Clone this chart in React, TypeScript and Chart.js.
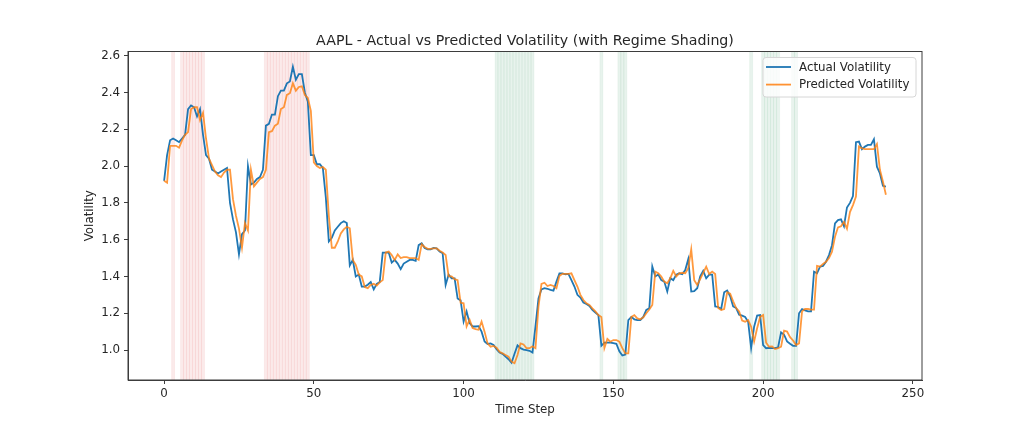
import { useRef, useEffect } from 'react';
import Chart from 'chart.js/auto';

// actual vs predicted volatility, one value per time step (0..241)
const actualVolatility = [
  1.92, 2.06, 2.14, 2.15, 2.14, 2.13, 2.15, 2.17, 2.31, 2.33,
  2.32, 2.27, 2.31, 2.17, 2.06, 2.04, 1.98, 1.97, 1.96, 1.97,
  1.98, 1.99, 1.80, 1.71, 1.64, 1.52, 1.63, 1.65, 2.00, 1.90,
  1.91, 1.93, 1.94, 1.98, 2.22, 2.23, 2.28, 2.28, 2.38, 2.41,
  2.41, 2.45, 2.46, 2.54, 2.47, 2.50, 2.50, 2.40, 2.35, 2.06,
  2.06, 2.01, 2.01, 1.99, 1.83, 1.59, 1.61, 1.65, 1.67, 1.69,
  1.70, 1.69, 1.46, 1.49, 1.40, 1.41, 1.345, 1.345, 1.355, 1.37,
  1.33, 1.36, 1.37, 1.53, 1.53, 1.53, 1.475, 1.49, 1.47, 1.44,
  1.47, 1.48, 1.49, 1.49, 1.485, 1.57, 1.58, 1.555, 1.547, 1.547,
  1.555, 1.553, 1.535, 1.526, 1.354, 1.41, 1.39, 1.39, 1.28, 1.27,
  1.155, 1.21, 1.146, 1.128, 1.128, 1.13, 1.10, 1.046, 1.033, 1.036,
  1.027, 1.004, 0.986, 0.979, 0.964, 0.95, 0.931, 0.98, 1.025, 1.01,
  1.002, 1.0, 0.996, 0.986, 1.13, 1.28, 1.33, 1.336, 1.333, 1.327,
  1.323, 1.372, 1.417, 1.417, 1.412, 1.414, 1.38, 1.345, 1.30, 1.285,
  1.258, 1.25, 1.24, 1.218, 1.204, 1.19, 1.023, 1.04, 1.04, 1.04,
  1.038, 1.034, 0.993, 0.97, 0.975, 1.163, 1.18, 1.167, 1.163, 1.163,
  1.18, 1.218, 1.227, 1.454, 1.40, 1.41, 1.38, 1.372, 1.318, 1.39,
  1.38, 1.41, 1.417, 1.412, 1.435, 1.494, 1.318, 1.32, 1.336, 1.40,
  1.43, 1.39, 1.41, 1.41, 1.237, 1.234, 1.223, 1.314, 1.324, 1.292,
  1.237, 1.228, 1.192, 1.187, 1.18, 1.154, 1.01, 1.127, 1.187, 1.19,
  1.027, 1.01, 1.012, 1.01, 1.01, 1.015, 1.096, 1.083, 1.047, 1.034,
  1.023, 1.023, 1.20, 1.223, 1.216, 1.21, 1.21, 1.426, 1.417, 1.453,
  1.457, 1.48, 1.516, 1.57, 1.688, 1.706, 1.71, 1.673, 1.775, 1.80,
  1.837, 2.13, 2.133, 2.092, 2.106, 2.115, 2.115, 2.146, 1.997, 1.96,
  1.893, 1.889,
];

const predictedVolatility = [
  1.92, 1.91, 2.11, 2.11, 2.11, 2.10, 2.14, 2.17, 2.185, 2.31,
  2.32, 2.32, 2.25, 2.29, 2.15, 2.04, 2.005, 1.97, 1.95, 1.94,
  1.965, 1.98, 1.98, 1.82, 1.73, 1.66, 1.556, 1.69, 1.65, 1.98,
  1.89, 1.91, 1.93, 1.94, 1.98, 2.185, 2.19, 2.22, 2.23, 2.31,
  2.32, 2.387, 2.396, 2.45, 2.41, 2.43, 2.434, 2.387, 2.37, 2.30,
  2.02, 2.00, 1.99, 1.995, 1.98, 1.73, 1.556, 1.556, 1.59, 1.634,
  1.656, 1.67, 1.662, 1.49, 1.463, 1.41, 1.40, 1.342, 1.336, 1.354,
  1.36, 1.35, 1.368, 1.38, 1.53, 1.535, 1.517, 1.49, 1.52, 1.50,
  1.505, 1.505, 1.50, 1.50, 1.50, 1.49, 1.575, 1.56, 1.55, 1.55,
  1.553, 1.553, 1.54, 1.53, 1.517, 1.40, 1.40, 1.385, 1.38, 1.257,
  1.254, 1.128, 1.165, 1.12, 1.114, 1.11, 1.155, 1.10, 1.036, 1.018,
  1.022, 1.013, 0.99, 0.982, 0.973, 0.964, 0.937, 0.928, 0.973, 1.036,
  1.03, 1.01, 1.01, 1.02, 1.01, 1.236, 1.36, 1.366, 1.348, 1.354,
  1.348, 1.336, 1.403, 1.414, 1.414, 1.414, 1.417, 1.38, 1.345, 1.30,
  1.272, 1.254, 1.245, 1.227, 1.21, 1.19, 1.18, 1.01, 1.06, 1.045,
  1.054, 1.054, 1.045, 1.01, 0.982, 0.982, 1.18, 1.19, 1.172, 1.167,
  1.178, 1.20, 1.22, 1.245, 1.426, 1.417, 1.40, 1.372, 1.363, 1.39,
  1.43, 1.40, 1.417, 1.42, 1.417, 1.445, 1.547, 1.38, 1.354, 1.385,
  1.42, 1.453, 1.413, 1.426, 1.413, 1.228, 1.218, 1.223, 1.314, 1.306,
  1.265, 1.228, 1.21, 1.16, 1.154, 1.163, 1.127, 1.047, 1.118, 1.18,
  1.19, 1.04, 1.018, 1.02, 1.005, 1.01, 1.018, 1.105, 1.10, 1.07,
  1.052, 1.027, 1.036, 1.21, 1.223, 1.223, 1.22, 1.22, 1.457, 1.453,
  1.468, 1.48, 1.50, 1.534, 1.616, 1.667, 1.673, 1.697, 1.66, 1.75,
  1.788, 1.834, 2.106, 2.097, 2.092, 2.092, 2.092, 2.092, 2.12, 1.98,
  1.916, 1.844,
];

// time steps flagged by the regime model
const highVolSteps = [3, 6, 7, 8, 9, 10, 11, 12, 13, 34, 35, 36, 37, 38, 39, 40, 41, 42, 43, 44, 45, 46, 47, 48];
const lowVolSteps = [
  111, 112, 113, 114, 115, 116, 117, 118, 119, 120, 121, 122, 123,
  146, 152, 153, 154, 196, 200, 201, 202, 203, 204, 205, 210, 211,
];

const xTicks = [0, 50, 100, 150, 200, 250];
const yTicks = [1.0, 1.2, 1.4, 1.6, 1.8, 2.0, 2.2, 2.4, 2.6];

const FONT = '"DejaVu Sans", sans-serif';
const TEXT = '#262626';
const AXIS = '#3d3d3d';

const regimePlugin = {
  id: 'regimeShading',
  beforeDatasetsDraw(chart: any) {
    const { ctx, chartArea, scales } = chart;
    const x = scales.x;
    ctx.save();
    ctx.beginPath();
    ctx.rect(chartArea.left, chartArea.top, chartArea.width, chartArea.height);
    ctx.clip();
    // each step is its own span, so the soft edges overlap into faint seams
    const span = (step: number, fill: string, edge: string) => {
      const x0 = x.getPixelForValue(step - 0.5);
      const x1 = x.getPixelForValue(step + 0.5);
      ctx.fillStyle = fill;
      ctx.fillRect(x0, chartArea.top, x1 - x0, chartArea.height);
      ctx.strokeStyle = edge;
      ctx.lineWidth = 0.7;
      ctx.beginPath();
      ctx.moveTo(x0, chartArea.top);
      ctx.lineTo(x0, chartArea.bottom);
      ctx.moveTo(x1, chartArea.top);
      ctx.lineTo(x1, chartArea.bottom);
      ctx.stroke();
    };
    highVolSteps.forEach(s => span(s, 'rgba(220,50,50,0.1)', 'rgba(220,50,50,0.08)'));
    lowVolSteps.forEach(s => span(s, 'rgba(30,140,80,0.1)', 'rgba(30,140,80,0.08)'));
    ctx.restore();
  },
};

const frameLegendPlugin = {
  id: 'frameLegend',
  afterDraw(chart: any) {
    const { ctx, chartArea } = chart;
    ctx.save();
    // axes box
    ctx.strokeStyle = AXIS;
    ctx.lineWidth = 1;
    ctx.strokeRect(chartArea.left, chartArea.top, chartArea.right - chartArea.left, chartArea.bottom - chartArea.top);

    // title
    ctx.fillStyle = TEXT;
    ctx.font = `14.2px ${FONT}`;
    ctx.textAlign = 'center';
    ctx.textBaseline = 'alphabetic';
    ctx.fillText('AAPL - Actual vs Predicted Volatility (with Regime Shading)', (chartArea.left + chartArea.right) / 2, chartArea.top - 7);

    // legend
    const w = 153, h = 39.5;
    const bx = chartArea.right - 6 - w;
    const by = chartArea.top + 6;
    ctx.fillStyle = 'rgba(255,255,255,0.8)';
    ctx.strokeStyle = '#d6d6d6';
    ctx.beginPath();
    ctx.roundRect(bx, by, w, h, 3);
    ctx.fill();
    ctx.stroke();
    const items = [
      { label: 'Actual Volatility', color: '#1f77b4' },
      { label: 'Predicted Volatility', color: 'rgba(255,127,14,0.85)' },
    ];
    ctx.font = `11.85px ${FONT}`;
    ctx.textAlign = 'left';
    ctx.textBaseline = 'middle';
    items.forEach((it, k) => {
      const y = by + 9.5 + k * 17.6;
      ctx.strokeStyle = it.color;
      ctx.lineWidth = 1.8;
      ctx.beginPath();
      ctx.moveTo(bx + 3, y);
      ctx.lineTo(bx + 28, y);
      ctx.stroke();
      ctx.fillStyle = TEXT;
      ctx.fillText(it.label, bx + 36, y + 0.5);
    });
    ctx.restore();
  },
};

export default function App() {
  const chartRef = useRef<HTMLCanvasElement>(null);
  const chartInstance = useRef<Chart | null>(null);

  useEffect(() => {
    document.body.style.margin = '0';
    if (!chartRef.current) return;
    if (chartInstance.current) chartInstance.current.destroy();
    const ctx = chartRef.current.getContext('2d');
    if (!ctx) return;

    chartInstance.current = new Chart(ctx, {
      type: 'line',
      data: {
        datasets: [
          {
            label: 'Actual Volatility',
            data: actualVolatility.map((v, i) => ({ x: i, y: v })),
            borderColor: '#1f77b4',
            borderWidth: 1.8,
            pointRadius: 0,
            tension: 0,
            order: 2,
          },
          {
            label: 'Predicted Volatility',
            data: predictedVolatility.map((v, i) => ({ x: i, y: v })),
            borderColor: 'rgba(255,127,14,0.8)',
            borderWidth: 1.8,
            pointRadius: 0,
            tension: 0,
            order: 1,
          },
        ],
      },
      options: {
        animation: false,
        responsive: true,
        maintainAspectRatio: false,
        layout: { padding: { top: 51.5, right: 102, left: 0, bottom: 0 } },
        plugins: {
          legend: { display: false },
          title: { display: false },
          tooltip: { enabled: false },
        },
        scales: {
          x: {
            type: 'linear',
            min: -12.05,
            max: 253.05,
            afterBuildTicks: (scale: any) => {
              scale.ticks = xTicks.map(v => ({ value: v }));
            },
            afterFit: (scale: any) => {
              scale.height = 47;
              scale.paddingLeft = 0;
              scale.paddingRight = 0;
            },
            ticks: {
              color: TEXT,
              font: { family: FONT, size: 11.85 },
              padding: 3,
              maxRotation: 0,
              callback: (v: any) => String(v),
            },
            grid: { drawOnChartArea: false, drawTicks: true, tickLength: 4, color: AXIS },
            border: { display: true, color: AXIS },
            title: {
              display: true,
              text: 'Time Step',
              color: TEXT,
              font: { family: FONT, size: 11.85 },
              padding: { top: 0, bottom: 10 },
            },
          },
          y: {
            type: 'linear',
            min: 0.837,
            max: 2.623,
            afterBuildTicks: (scale: any) => {
              scale.ticks = yTicks.map(v => ({ value: v }));
            },
            afterFit: (scale: any) => {
              scale.width = 128;
            },
            ticks: {
              color: TEXT,
              font: { family: FONT, size: 11.85 },
              padding: 4,
              callback: (v: any) => Number(v).toFixed(1),
            },
            grid: { drawOnChartArea: false, drawTicks: true, tickLength: 4, color: AXIS },
            border: { display: true, color: AXIS },
            title: {
              display: true,
              text: 'Volatility',
              color: TEXT,
              font: { family: FONT, size: 11.85 },
              padding: { top: 83, bottom: 0 },
            },
          },
        },
      },
      plugins: [regimePlugin, frameLegendPlugin],
    });

    return () => {
      if (chartInstance.current) {
        chartInstance.current.destroy();
        chartInstance.current = null;
      }
    };
  }, []);

  return (
    <div style={{ position: 'relative', width: 1024, height: 427 }}>
      <canvas ref={chartRef}></canvas>
    </div>
  );
}
